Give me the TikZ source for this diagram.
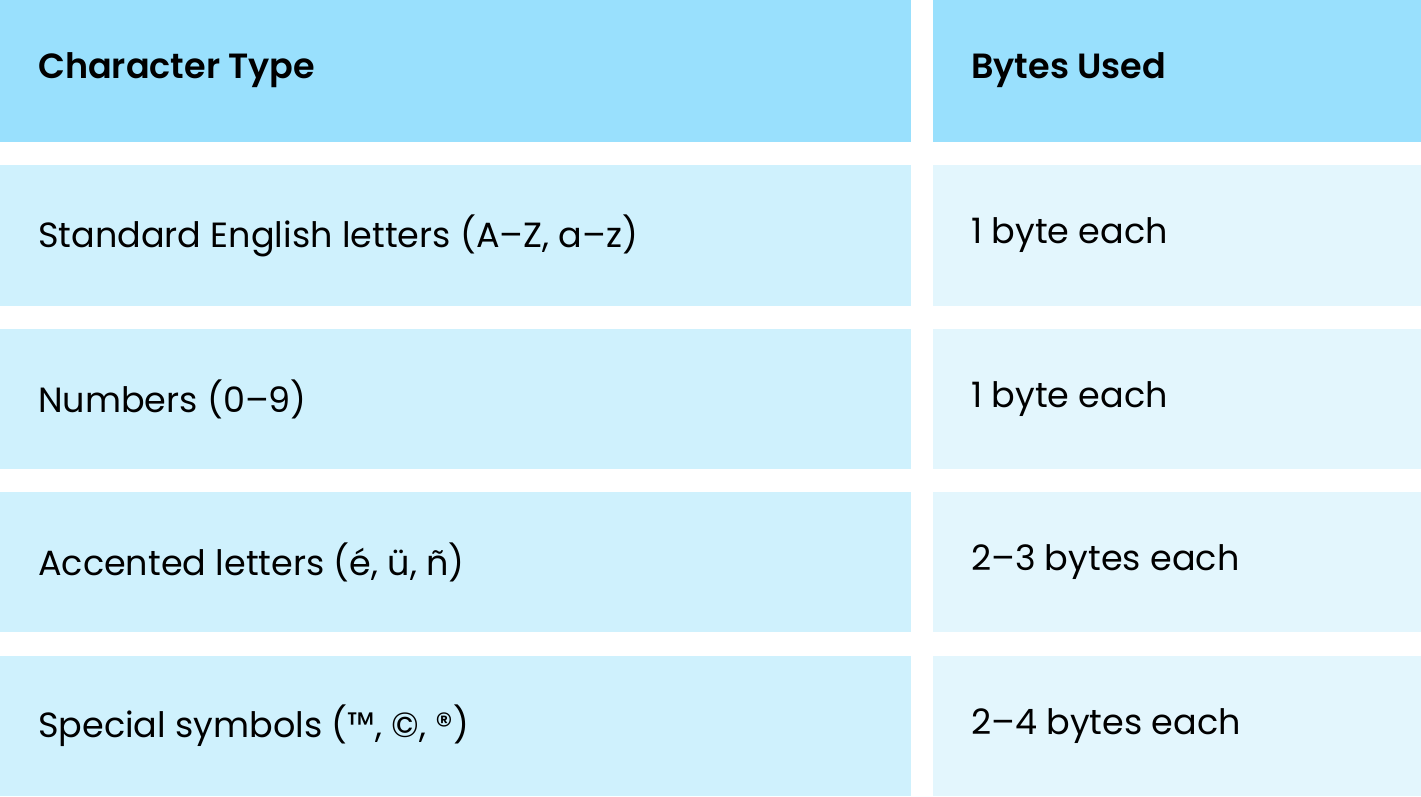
\documentclass[tikz,border=0pt]{standalone}
\usepackage{fontspec}
\setmainfont{Poppins}[BoldFont={Poppins SemiBold}]
\definecolor{hdr}{HTML}{99E0FD}
\definecolor{cA}{HTML}{CFF1FD}
\definecolor{cB}{HTML}{E3F6FD}
\begin{document}
\begin{tikzpicture}[x=1pt,y=-1pt,
  txt/.style={anchor=west,inner sep=0pt,font=\fontsize{35}{40}\selectfont},
  htxt/.style={txt,font=\fontsize{35}{40}\selectfont\bfseries}]
\useasboundingbox (0,0) rectangle (1421,797);
\fill[hdr] (0,0) rectangle (911,142);
\fill[hdr] (933,0) rectangle (1421,142);
\node[htxt] (h1) at (38,70) {Character Type};
\node[htxt] (h2) at (971,70) {Bytes Used};
\foreach \t/\b/\l/\r [count=\i] in {165/306/{Standard English letters (A–Z, a–z)}/{1 byte each},
  329/469/{Numbers (0–9)}/{1 byte each},
  492/632/{Accented letters (é, ü, ñ)}/{2–3 bytes each},
  656/796/{Special symbols (™, ©, ®)}/{2–4 bytes each}}{
  \fill[cA] (0,\t) rectangle (911,\b);
  \fill[cB] (933,\t) rectangle (1421,\b);
  \node[txt] (l\i) at (38,{(\t+\b)/2}) {\l};
  \node[txt] (r\i) at (971,{(\t+\b)/2}) {\r};
}
\end{tikzpicture}
\end{document}
